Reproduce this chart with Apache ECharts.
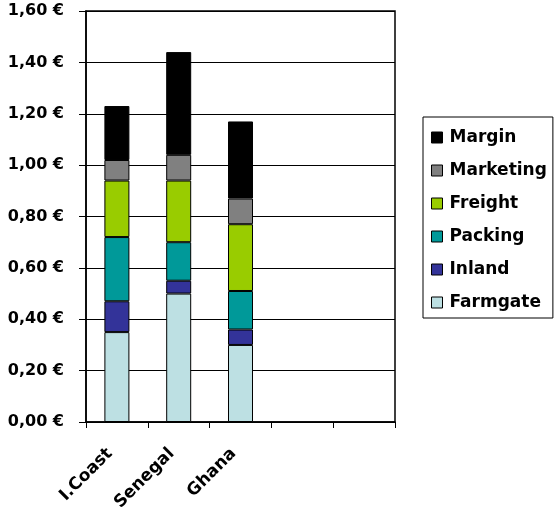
<!DOCTYPE html>
<html>
<head>
<meta charset="utf-8">
<script src="https://cdn.jsdelivr.net/npm/echarts@6/dist/echarts.min.js"></script>
<style>
  html, body { margin: 0; padding: 0; background: #fff; }
  #chart { width: 554px; height: 514px; }
</style>
</head>
<body>
<div id="chart"></div>
<script>
// Cost build-up per exporting country (€ per unit)
const countries = ['I.Coast', 'Senegal', 'Ghana', '', ''];
const farmgate  = [0.35, 0.50, 0.30];
const inland    = [0.12, 0.05, 0.06];
const packing   = [0.25, 0.15, 0.15];
const freight   = [0.22, 0.24, 0.26];
const marketing = [0.08, 0.10, 0.10];
const margin    = [0.21, 0.40, 0.30];

const seriesDefs = [
  { name: 'Farmgate',  data: farmgate,  color: '#BDE0E3' },
  { name: 'Inland',    data: inland,    color: '#333399' },
  { name: 'Packing',   data: packing,   color: '#009999' },
  { name: 'Freight',   data: freight,   color: '#99CC00' },
  { name: 'Marketing', data: marketing, color: '#808080' },
  { name: 'Margin',    data: margin,    color: '#000000' }
];

const FONT = 'DejaVu Sans';
const chart = echarts.init(document.getElementById('chart'));

chart.setOption({
  animation: false,
  backgroundColor: '#ffffff',
  grid: {
    left: 86, top: 11, width: 309, height: 411,
    show: true, borderColor: '#000', borderWidth: 1.5, backgroundColor: 'transparent'
  },
  legend: {
    orient: 'vertical',
    left: 423, top: 117,
    data: seriesDefs.map(s => s.name).reverse(),
    itemWidth: 11, itemHeight: 11,
    itemGap: 16,
    padding: [12, 6, 7, 8],
    borderColor: '#000', borderWidth: 1,
    icon: 'rect',
    itemStyle: { borderColor: '#000', borderWidth: 1 },
    textStyle: { fontFamily: FONT, fontWeight: 'bold', fontSize: 17, color: '#000', padding: [0, 0, 0, 2] }
  },
  xAxis: {
    type: 'category',
    data: countries,
    boundaryGap: true,
    axisLine: { lineStyle: { color: '#000', width: 1.5 } },
    axisTick: { show: true, interval: 0, length: 6, lineStyle: { color: '#000' } },
    axisLabel: {
      interval: 0, rotate: 45, margin: 22,
      padding: [0, 10, 0, 0],
      fontFamily: FONT, fontWeight: 'bold', fontSize: 17, color: '#000'
    }
  },
  yAxis: {
    type: 'value',
    min: 0, max: 1.6, interval: 0.2,
    axisLine: { show: true, lineStyle: { color: '#000', width: 1.5 } },
    axisTick: { show: true, length: 7, lineStyle: { color: '#000' } },
    splitLine: { lineStyle: { color: '#000', width: 1 } },
    axisLabel: {
      margin: 22,
      fontFamily: FONT, fontWeight: 'bold', fontSize: 16, color: '#000',
      formatter: v => v.toFixed(2).replace('.', ',') + ' €'
    }
  },
  series: seriesDefs.map(s => ({
    name: s.name,
    type: 'bar',
    stack: 'cost',
    barWidth: 25,
    data: s.data,
    itemStyle: { color: s.color, borderColor: '#000', borderWidth: 1 }
  }))
});
</script>
</body>
</html>
